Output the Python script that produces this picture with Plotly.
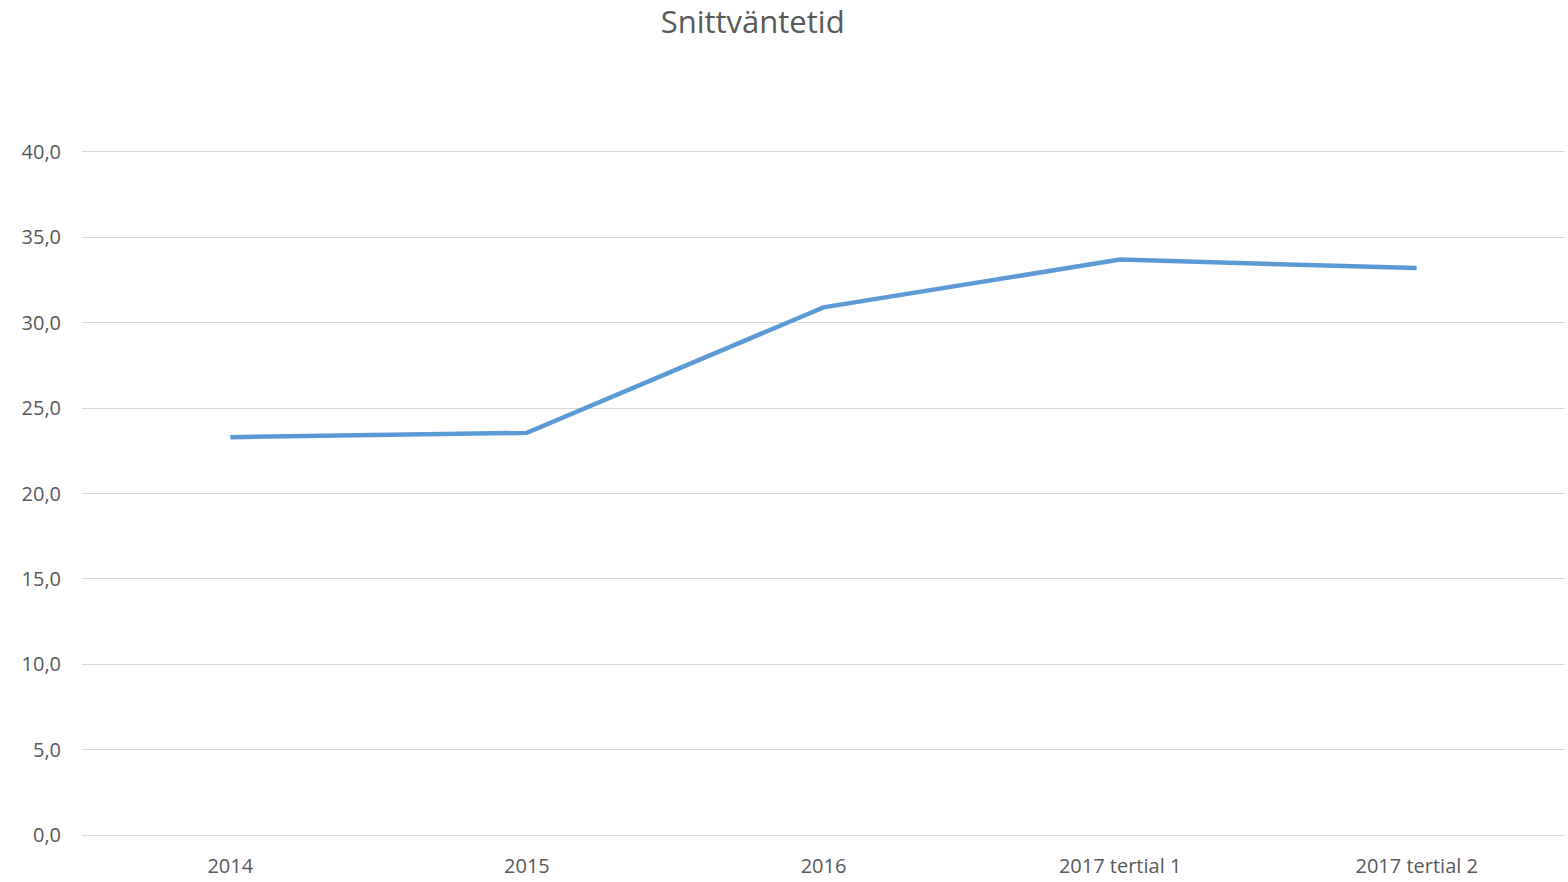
import plotly.graph_objects as go

categories = ["2014", "2015", "2016", "2017 tertial 1", "2017 tertial 2"]
values = [23.3, 23.55, 30.9, 33.7, 33.2]
y_ticks = [0, 5, 10, 15, 20, 25, 30, 35, 40]
y_tick_labels = ["0,0", "5,0", "10,0", "15,0", "20,0", "25,0", "30,0", "35,0", "40,0"]

fig = go.Figure()
fig.add_trace(go.Scatter(
    x=list(range(len(categories))), y=values, mode="lines",
    line=dict(color="#5B9BD5", width=4.5), hoverinfo="y"))

fig.update_layout(
    width=1568, height=882,
    margin=dict(l=82, r=3, t=152, b=42),
    paper_bgcolor="white", plot_bgcolor="white",
    showlegend=False,
    font=dict(family="Open Sans, Liberation Sans, sans-serif", color="#595959", size=20),
    title=dict(text="Snittväntetid", x=0.48, xanchor="center", y=0.975, yanchor="middle",
               font=dict(size=31, color="#595959")),
    xaxis=dict(range=[-0.5, 4.5], tickmode="array", tickvals=list(range(len(categories))),
               ticktext=categories, showgrid=False, zeroline=False,
               showline=True, mirror=True, linecolor="#D9D9D9", linewidth=1.3,
               ticks="", ticklabelstandoff=13, tickfont=dict(size=20, color="#595959")),
    yaxis=dict(range=[0, 40], tickmode="array", tickvals=y_ticks, ticktext=y_tick_labels,
               showgrid=True, gridcolor="#D9D9D9", gridwidth=1.3, zeroline=False,
               showline=False, ticks="", ticklabelstandoff=20,
               tickfont=dict(size=20, color="#595959")),
)
fig.write_html("out.html", config={"displayModeBar": False},
               post_script="document.body.style.margin='0';document.body.style.overflow='hidden';")
